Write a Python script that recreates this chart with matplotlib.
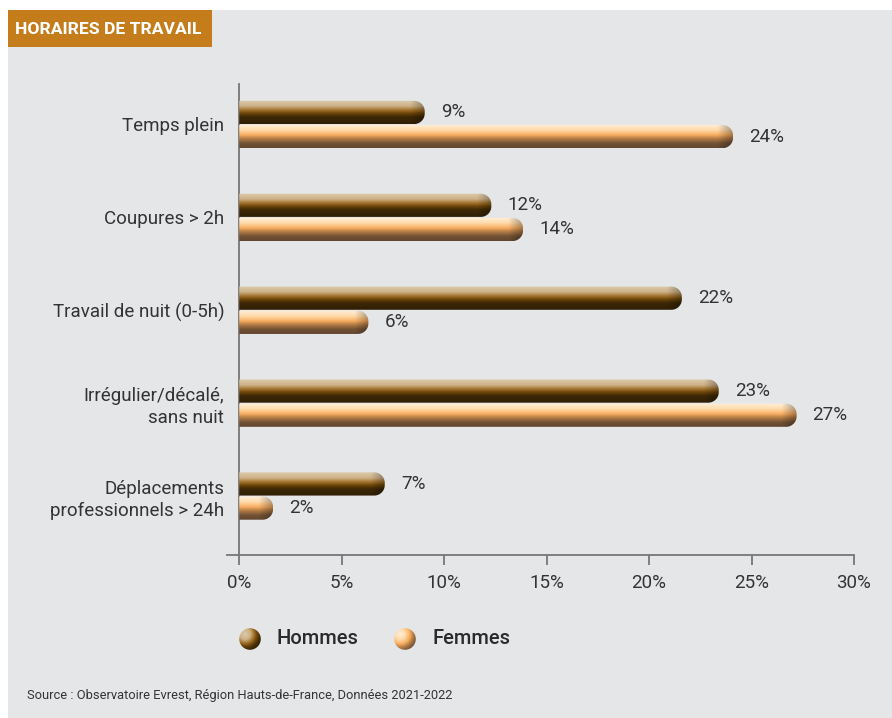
import numpy as np
import matplotlib
matplotlib.use("Agg")
import matplotlib.pyplot as plt
from matplotlib.patches import Rectangle, Circle, PathPatch
from matplotlib.path import Path
from matplotlib.colors import LinearSegmentedColormap

plt.rcParams['font.family'] = ['Roboto', 'DejaVu Sans']

# data
categories = ['Temps plein', 'Coupures > 2h', 'Travail de nuit (0-5h)',
              'Irrégulier/décalé,\nsans nuit', 'Déplacements\nprofessionnels > 24h']
hommes = [9.05, 12.3, 21.6, 23.4, 7.1]
femmes = [24.1, 13.85, 6.3, 27.2, 1.65]
series_names = ['Hommes', 'Femmes']
xticks = [0, 5, 10, 15, 20, 25, 30]

W, H = 892, 718
fig = plt.figure(figsize=(W / 100, H / 100), dpi=100, facecolor='white')

# gray panel + title box
fig.patches.append(Rectangle((8 / W, 0), 1 - 8 / W, (H - 10) / H, transform=fig.transFigure,
                             facecolor='#e5e6e8', edgecolor='none', zorder=-10))
fig.patches.append(Rectangle((8 / W, (H - 47) / H), 204 / W, 37 / H, transform=fig.transFigure,
                             facecolor='#c57c1a', edgecolor='none', zorder=-9))
fig.text(15 / W, (H - 29) / H, 'HORAIRES DE TRAVAIL', color='white', fontsize=12.6,
         fontweight='bold', va='center', ha='left')

ax = fig.add_axes([227 / W, (H - 555) / H, (854 - 227) / W, (555 - 84) / H])
ax.set_facecolor('none')
ax.set_xlim(-0.6, 30)
ax.set_ylim(4.635, -0.436)

cmap_h = LinearSegmentedColormap.from_list('h', [(0, '#dccbad'), (0.25, '#cdb085'), (0.42, '#a0702a'),
                                                 (0.55, '#6e4608'), (0.7, '#3e2806'), (1, '#2e1e05')])
cmap_f = LinearSegmentedColormap.from_list('f', [(0, '#fff0dc'), (0.25, '#ffd9a8'), (0.45, '#f9ae62'),
                                                 (0.62, '#b07a44'), (0.8, '#735235'), (1, '#634630')])

y = np.arange(len(categories))
bh = 0.25
off = 0.13
bars_h = ax.barh(y - off, hommes, height=bh, color='none')
bars_f = ax.barh(y + off, femmes, height=bh, color='none')

fig.canvas.draw()
px_x = ax.transData.transform((1, 0))[0] - ax.transData.transform((0, 0))[0]
px_y = abs(ax.transData.transform((0, 1))[1] - ax.transData.transform((0, 0))[1])
rx = 10.5 / px_x
ry = 10.5 / px_y


def rounded_path(x0, x1, y0, y1):
    r_x = min(rx, (x1 - x0))
    r_y = min(ry, (y1 - y0) / 2)
    cx = x1 - r_x
    pts = [(x0, y0), (cx, y0)]
    for t in np.linspace(-np.pi / 2, 0, 12):
        pts.append((cx + r_x * np.cos(t), y0 + r_y + r_y * np.sin(t)))
    for t in np.linspace(0, np.pi / 2, 12):
        pts.append((cx + r_x * np.cos(t), y1 - r_y + r_y * np.sin(t)))
    pts.append((x0, y1))
    pts.append((x0, y0))
    return Path(pts, closed=True)


grad = np.linspace(0, 1, 64).reshape(-1, 1)
for bars, cmap in [(bars_h, cmap_h), (bars_f, cmap_f)]:
    for b in bars:
        x0, y0 = b.get_x(), b.get_y()
        x1, y1 = x0 + b.get_width(), y0 + b.get_height()
        rgb = cmap(np.repeat(grad, 200, axis=1))[..., :3]
        # darken towards the right end
        xs = np.linspace(x0, x1, 200)
        dist_px = (x1 - xs) * px_x
        shade = np.clip(dist_px / 14.0, 0, 1) * 0.3 + 0.7
        rgb = rgb * shade[None, :, None]
        im = ax.imshow(rgb, extent=[x0, x1, y1, y0], aspect='auto', interpolation='bilinear', zorder=3)
        patch = PathPatch(rounded_path(x0, x1, y0, y1), facecolor='none', edgecolor='none',
                          transform=ax.transData)
        ax.add_patch(patch)
        im.set_clip_path(patch)

for bars, vals in [(bars_h, hommes), (bars_f, femmes)]:
    for b, v in zip(bars, vals):
        ax.text(v + 0.78, b.get_y() + b.get_height() / 2, f'{round(v)}%', va='center', ha='left',
                fontsize=13.5, color='#333333', zorder=4)

ax.set_xlim(-0.6, 30)
ax.set_ylim(4.635, -0.436)
ax.axvline(0, color='#777777', lw=1.3, zorder=2, clip_on=False)
for s in ['top', 'right', 'left']:
    ax.spines[s].set_visible(False)
ax.spines['bottom'].set_color('#777777')
ax.spines['bottom'].set_linewidth(1.3)
ax.set_xticks(xticks)
ax.set_xticklabels([f'{t}%' for t in xticks])
ax.tick_params(axis='x', direction='out', length=7.5, width=1.3, color='#777777',
               labelsize=13.5, labelcolor='#333333', pad=6)
ax.set_yticks(y)
ax.set_yticklabels(categories, fontsize=13.5, color='#333333', ha='right', multialignment='right',
                   linespacing=1.3)
ax.tick_params(axis='y', length=0, pad=2)

# legend spheres
def sphere(cx, cy, r, cmap):
    sax = fig.add_axes([(cx - r) / W, (H - cy - r) / H, 2 * r / W, 2 * r / H])
    n = 80
    xx, yy = np.meshgrid(np.linspace(-1, 1, n), np.linspace(-1, 1, n))
    d = np.sqrt((xx + 0.45) ** 2 + (yy + 0.45) ** 2) / 2.0
    sax.imshow(cmap(np.clip(d, 0, 1)), extent=[-1, 1, 1, -1], interpolation='bilinear')
    c = Circle((0, 0), 0.98, transform=sax.transData)
    sax.images[0].set_clip_path(c)
    sax.set_xlim(-1, 1)
    sax.set_ylim(1, -1)
    sax.axis('off')


sphere(250, 639, 11, cmap_h)
sphere(405, 639, 11, cmap_f)
fig.text(276 / W, (H - 639) / H, series_names[0], fontsize=14.5, fontweight='medium',
         color='#2a2a2a', va='center')
fig.text(432 / W, (H - 639) / H, series_names[1], fontsize=14.5, fontweight='medium',
         color='#2a2a2a', va='center')

fig.text(27 / W, (H - 696) / H, 'Source : Observatoire Evrest, Région Hauts-de-France, Données 2021-2022',
         fontsize=9.3, color='#333333', va='center')

fig.savefig('out.png', dpi=100, facecolor='white')
